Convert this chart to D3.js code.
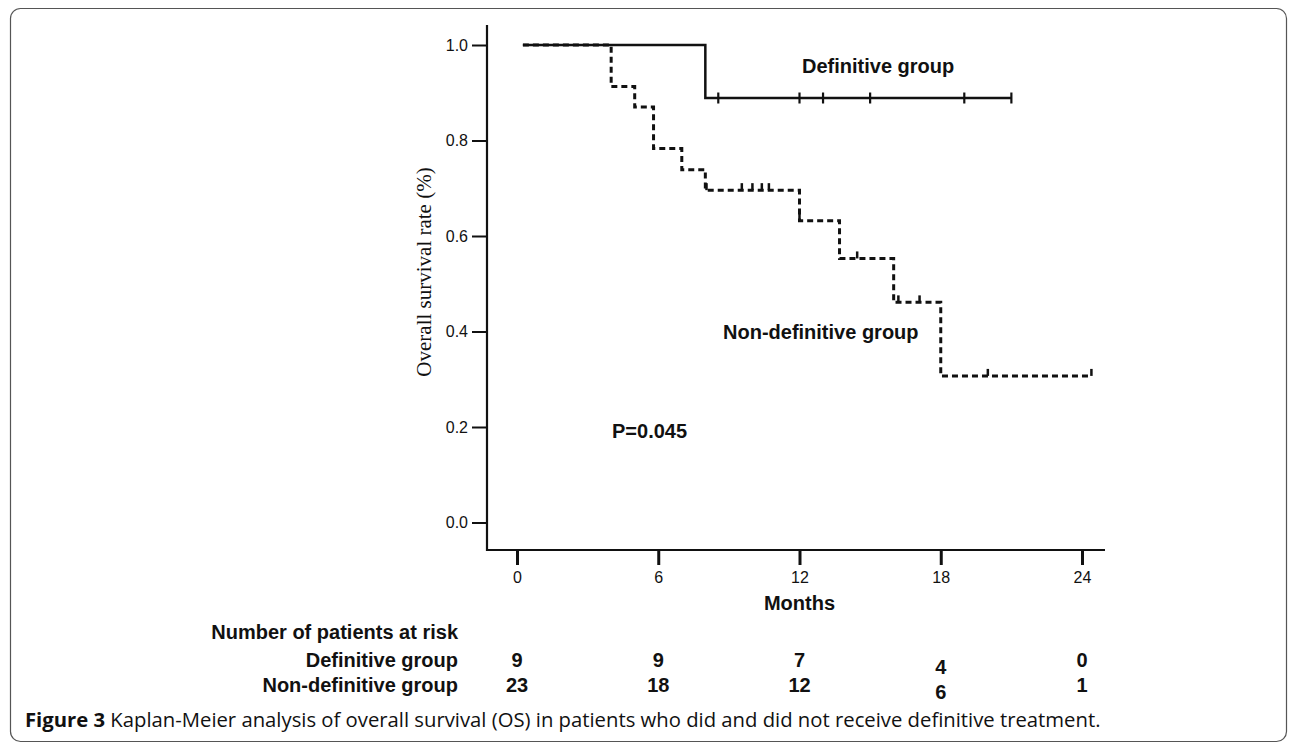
<!DOCTYPE html>
<html lang="en">

<head>
    <meta charset="UTF-8">
    <title>Kaplan-Meier OS</title>
    <script src="https://d3js.org/d3.v7.min.js"></script>
    <style>
        body {
            margin: 0;
            background: #fff;
        }

        svg text {
            fill: #111;
        }

        .axis text {
            font-family: "Liberation Sans", Arial, sans-serif;
            font-size: 16px;
        }

        .axis line {
            stroke: #111;
        }

        .lbl {
            font-family: "Liberation Sans", Arial, sans-serif;
            font-weight: bold;
            font-size: 20px;
        }
    </style>
</head>

<body>

    <script>
        // survival steps (months, survival)
        const defStepTime = [0.25, 8];
        const defStepSurv = [1.0, 0.889];
        const defEndTime = 21;
        const defCensor = [8.55, 12, 13, 15, 19, 21];

        const nonStepTime = [0.25, 4, 5, 5.8, 7, 8, 12, 13.7, 16, 18];
        const nonStepSurv = [1.0, 0.913, 0.870, 0.783, 0.739, 0.696, 0.632, 0.553, 0.461, 0.307];
        const nonEndTime = 24.4;
        const nonCensor = [8.05, 9.55, 10, 10.4, 10.7, 12, 14.45, 16.2, 17.1, 20, 24.4];

        const xTicks = [0, 6, 12, 18, 24];
        const yTicks = [0, 0.2, 0.4, 0.6, 0.8, 1.0];

        // patients at risk table
        const riskGroups = ['Definitive group', 'Non-definitive group'];
        const riskDef = [9, 9, 7, 4, 0];
        const riskNon = [23, 18, 12, 6, 1];

        const width = 1290;
        const height = 744;

        const svg = d3.select('body').append('svg')
            .attr('width', width)
            .attr('height', height);

        // rounded frame around the figure
        svg.append('rect')
            .attr('x', 10.5).attr('y', 8.5)
            .attr('width', 1276).attr('height', 733)
            .attr('rx', 10)
            .attr('fill', 'none')
            .attr('stroke', '#555')
            .attr('stroke-width', 1.2);

        const x = d3.scaleLinear().domain([0, 24]).range([517, 1082]);
        const y = d3.scaleLinear().domain([0, 1]).range([522.5, 45]);

        const axisX = 487, axisY = 550;

        // axes
        const gy = svg.append('g').attr('class', 'axis')
            .attr('transform', `translate(${axisX},0)`)
            .call(d3.axisLeft(y).tickValues(yTicks).tickFormat(d3.format('.1f')).tickSize(15).tickPadding(4));
        gy.select('.domain').remove();
        gy.selectAll('line').attr('stroke-width', 2);

        const gx = svg.append('g').attr('class', 'axis')
            .attr('transform', `translate(0,${axisY})`)
            .call(d3.axisBottom(x).tickValues(xTicks).tickSize(15).tickPadding(7));
        gx.select('.domain').remove();
        gx.selectAll('line').attr('stroke-width', 3);

        svg.append('path')
            .attr('d', `M${axisX},25V${axisY}H1105`)
            .attr('fill', 'none')
            .attr('stroke', '#111')
            .attr('stroke-width', 2.2);

        // survival curves
        const line = d3.line()
            .x(d => x(d[0]))
            .y(d => y(d[1]))
            .curve(d3.curveStepAfter);

        const defPts = defStepTime.map((t, i) => [t, defStepSurv[i]]);
        defPts.push([defEndTime, defStepSurv[defStepSurv.length - 1]]);
        const nonPts = nonStepTime.map((t, i) => [t, nonStepSurv[i]]);
        nonPts.push([nonEndTime, nonStepSurv[nonStepSurv.length - 1]]);

        function survAt(times, surv, t) {
            let s = surv[0];
            times.forEach((tt, i) => { if (tt <= t) s = surv[i]; });
            return s;
        }

        svg.append('path')
            .attr('d', line(nonPts))
            .attr('fill', 'none')
            .attr('stroke', '#111')
            .attr('stroke-width', 3)
            .attr('stroke-dasharray', '6,4');

        svg.selectAll('.cens-non')
            .data(nonCensor)
            .enter().append('line')
            .attr('class', 'cens-non')
            .attr('x1', d => x(d)).attr('x2', d => x(d))
            .attr('y1', d => y(survAt(nonStepTime, nonStepSurv, d)))
            .attr('y2', d => y(survAt(nonStepTime, nonStepSurv, d)) - 7)
            .attr('stroke', '#111')
            .attr('stroke-width', 2.5);

        svg.append('path')
            .attr('d', line(defPts))
            .attr('fill', 'none')
            .attr('stroke', '#111')
            .attr('stroke-width', 2.5);

        svg.selectAll('.cens-def')
            .data(defCensor)
            .enter().append('line')
            .attr('class', 'cens-def')
            .attr('x1', d => x(d)).attr('x2', d => x(d))
            .attr('y1', d => y(survAt(defStepTime, defStepSurv, d)) - 5.5)
            .attr('y2', d => y(survAt(defStepTime, defStepSurv, d)) + 5.5)
            .attr('stroke', '#111')
            .attr('stroke-width', 2.2);

        // labels inside the plot
        svg.append('text').attr('class', 'lbl')
            .attr('x', 802).attr('y', 73)
            .text('Definitive group');
        svg.append('text').attr('class', 'lbl')
            .attr('x', 723).attr('y', 339)
            .text('Non-definitive group');
        svg.append('text').attr('class', 'lbl')
            .attr('x', 612).attr('y', 438)
            .text('P=0.045');

        svg.append('text').attr('class', 'lbl')
            .attr('x', x(12)).attr('y', 610)
            .attr('text-anchor', 'middle')
            .text('Months');

        svg.append('text')
            .attr('transform', 'translate(431,272) rotate(-90)')
            .attr('text-anchor', 'middle')
            .style('font-family', '"Liberation Serif", "Times New Roman", serif')
            .style('font-size', '21px')
            .text('Overall survival rate (%)');

        // number at risk table
        svg.append('text').attr('class', 'lbl')
            .attr('x', 458).attr('y', 639)
            .attr('text-anchor', 'end')
            .text('Number of patients at risk');

        [riskDef, riskNon].forEach((row, r) => {
            const by = r === 0 ? 667 : 692;
            svg.append('text').attr('class', 'lbl')
                .attr('x', 458).attr('y', by)
                .attr('text-anchor', 'end')
                .text(riskGroups[r]);
            svg.selectAll('.risk' + r)
                .data(row)
                .enter().append('text')
                .attr('class', 'lbl risk' + r)
                .attr('x', (d, i) => x(xTicks[i]))
                .attr('y', (d, i) => by + (i === 3 ? 7 : 0))
                .attr('text-anchor', 'middle')
                .text(d => d);
        });

        // caption, sized so it runs to about x=1100 like the original
        const cap = svg.append('text')
            .attr('x', 25).attr('y', 727)
            .style('font-family', '"Open Sans", "Noto Sans", sans-serif')
            .style('font-size', '20px');
        cap.append('tspan').style('font-weight', 'bold').text('Figure 3');
        cap.append('tspan').text(' Kaplan-Meier analysis of overall survival (OS) in patients who did and did not receive definitive treatment.');
        const capLen = cap.node().getComputedTextLength();
        cap.style('font-size', (20 * 1076 / capLen).toFixed(2) + 'px');
    </script>

</body>

</html>
